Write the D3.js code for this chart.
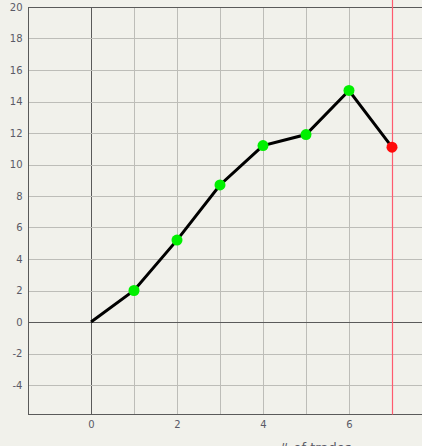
<!DOCTYPE html>
<html>
<head>
<meta charset="utf-8">
<script src="https://cdn.jsdelivr.net/npm/d3@7"></script>
<style>
  body { margin: 0; background: #f1f1eb; overflow: hidden; }
  svg { display: block; }
  .tick text { font-family: "DejaVu Sans", Verdana, sans-serif; font-size: 10px; fill: #5a5a66; }
</style>
</head>
<body>
<div id="chart"></div>
<script>
const trades = [0, 1, 2, 3, 4, 5, 6, 7];
const profit = [0, 2.0, 5.2, 8.7, 11.2, 11.9, 14.7, 11.1];
const xTicks = [0, 2, 4, 6];
const yTicks = [-4, -2, 0, 2, 4, 6, 8, 10, 12, 14, 16, 18, 20];
const current = 7;

const width = 422, height = 446;
const margin = { top: 7, left: 28, bottom: 31 };

const svg = d3.select("#chart").append("svg")
  .attr("width", width)
  .attr("height", height);

const x = d3.scaleLinear().domain([0, 7]).range([91, 392]);
const y = d3.scaleLinear().domain([0, 20]).range([322, margin.top]);
const plotBottom = height - margin.bottom - 0.5;
const plotRight = width + 40;

// vertical grid, one per unit
const xGrid = d3.range(0, 9);
svg.append("g")
  .selectAll("line")
  .data(xGrid)
  .join("line")
  .attr("x1", (d) => Math.round(x(d)) + 0.5)
  .attr("x2", (d) => Math.round(x(d)) + 0.5)
  .attr("y1", margin.top)
  .attr("y2", plotBottom)
  .attr("stroke", (d) => (d === 0 ? "#5a5a5a" : "#bdbdb8"))
  .attr("stroke-width", 1);

// horizontal grid
svg.append("g")
  .selectAll("line")
  .data(yTicks)
  .join("line")
  .attr("x1", margin.left)
  .attr("x2", plotRight)
  .attr("y1", (d) => Math.round(y(d)) + 0.5)
  .attr("y2", (d) => Math.round(y(d)) + 0.5)
  .attr("stroke", (d) => (d === 0 || d === 20 ? "#5a5a5a" : "#bdbdb8"))
  .attr("stroke-width", 1);

// axes
const yAxis = svg.append("g")
  .attr("transform", `translate(${margin.left + 0.5},0)`)
  .call(d3.axisLeft(y).tickValues(yTicks).tickFormat((d) => String(d)).tickSize(0).tickPadding(6));
yAxis.select(".domain").remove();
svg.append("line")
  .attr("x1", margin.left + 0.5).attr("x2", margin.left + 0.5)
  .attr("y1", margin.top).attr("y2", plotBottom)
  .attr("stroke", "#5a5a5a");

const xAxis = svg.append("g")
  .attr("transform", `translate(0,${plotBottom})`)
  .call(d3.axisBottom(x).tickValues(xTicks).tickFormat((d) => String(d)).tickSize(0).tickPadding(6));
xAxis.select(".domain").remove();
svg.append("line")
  .attr("x1", margin.left).attr("x2", plotRight)
  .attr("y1", plotBottom).attr("y2", plotBottom)
  .attr("stroke", "#5a5a5a");

// current marker
svg.append("line")
  .attr("x1", Math.round(x(current)) + 0.5)
  .attr("x2", Math.round(x(current)) + 0.5)
  .attr("y1", 0)
  .attr("y2", plotBottom)
  .attr("stroke", "#ff5a6e")
  .attr("stroke-width", 1.2);

const pts = trades.map((t, i) => ({ t, v: profit[i] }));

svg.append("path")
  .datum(pts)
  .attr("fill", "none")
  .attr("stroke", "#000")
  .attr("stroke-width", 3)
  .attr("d", d3.line().x((d) => x(d.t)).y((d) => y(d.v)));

svg.append("g")
  .selectAll("circle")
  .data(pts.slice(1))
  .join("circle")
  .attr("cx", (d) => x(d.t))
  .attr("cy", (d) => y(d.v))
  .attr("r", 5.5)
  .attr("fill", (d) => (d.t === current ? "#ff0a0a" : "#00f000"));

svg.append("text")
  .attr("x", 315)
  .attr("y", 452)
  .attr("text-anchor", "middle")
  .attr("font-family", "DejaVu Sans, Verdana, sans-serif")
  .attr("font-size", 13)
  .attr("fill", "#5a5a66")
  .text("# of trades");
</script>
</body>
</html>
